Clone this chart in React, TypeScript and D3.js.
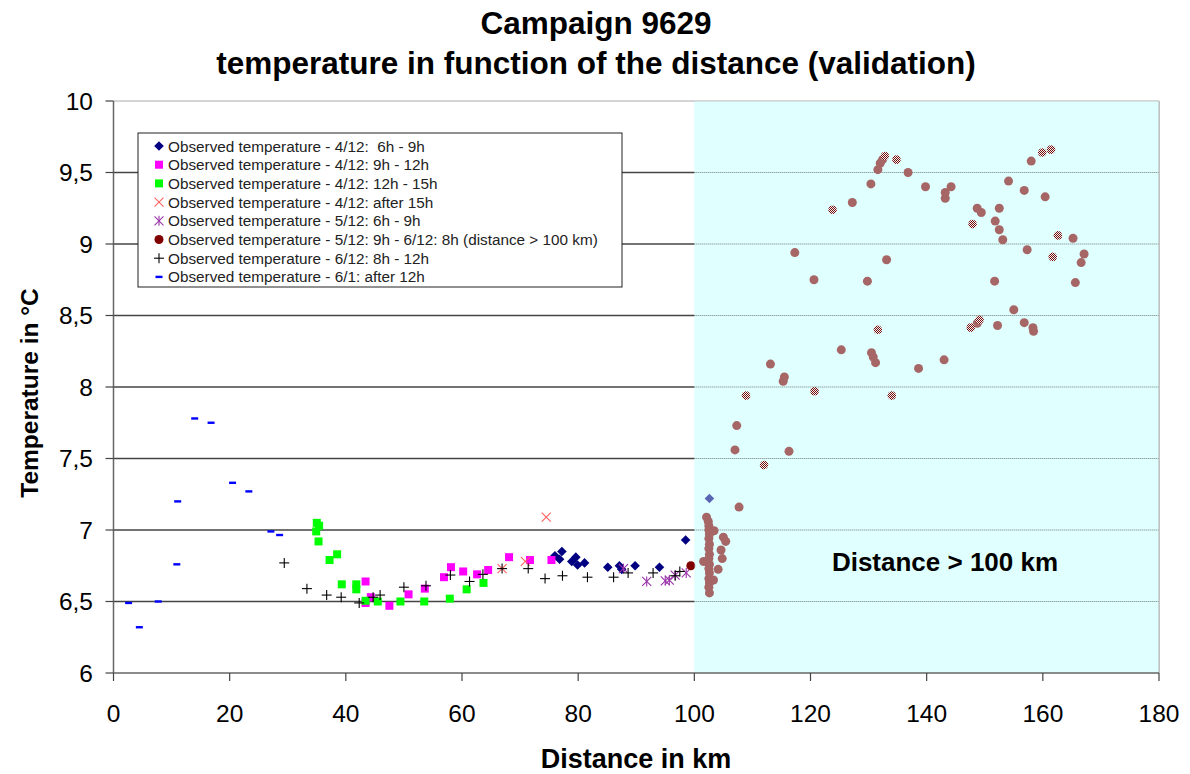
import React from 'react';
import * as d3 from 'd3';

type P = [number, number];

const xTicks = [0, 20, 40, 60, 80, 100, 120, 140, 160, 180];
const yTicks = [6, 6.5, 7, 7.5, 8, 8.5, 9, 9.5, 10];
const yTickLabels = ['6', '6,5', '7', '7,5', '8', '8,5', '9', '9,5', '10'];

const obs412_6_9: P[] = [[77.2,6.85],[76.0,6.82],[76.8,6.795],[79.6,6.81],[78.9,6.78],[79.9,6.755],[81.1,6.77],[85.1,6.74],[87.1,6.75],[87.5,6.725],[89.8,6.75],[94.0,6.74],[98.5,6.93],[102.6,7.22]];
const obs412_9_12: P[] = [[43.4,6.64],[44.3,6.53],[43.4,6.49],[47.5,6.47],[50.8,6.55],[53.6,6.59],[56.9,6.67],[58.1,6.74],[60.2,6.71],[62.6,6.69],[64.5,6.72],[68.1,6.81],[71.7,6.79],[75.4,6.79]];
const obs412_12_15: P[] = [[35.0,7.05],[35.4,7.03],[34.9,6.99],[35.3,6.92],[38.5,6.83],[37.2,6.79],[39.3,6.62],[41.8,6.62],[41.8,6.585],[43.4,6.505],[45.5,6.5],[49.4,6.5],[53.5,6.5],[57.9,6.52],[60.8,6.585],[63.7,6.63]];
const obs412_after15: P[] = [[74.5,7.09],[70.9,6.78],[66.9,6.73]];
const obs512_6_9: P[] = [[87.8,6.73],[91.8,6.64],[95.0,6.645],[95.7,6.65],[96.7,6.685],[98.6,6.7]];
const obs512_far: P[] = [[99.4,6.75],
  [102.1,7.09],[102.4,7.06],[102.5,7.03],[102.5,7.0],[102.6,6.97],[102.5,6.94],[102.6,6.9],[102.5,6.87],[102.6,6.83],[102.5,6.8],[102.6,6.76],[102.5,6.73],[102.6,6.7],[102.5,6.66],[102.6,6.63],[102.5,6.6],[102.6,6.56],
  [101.6,6.78],[103.4,6.995],[105.0,6.95],[105.4,6.92],[104.6,6.86],[104.8,6.8],[104.1,6.725],[103.3,6.65],[107.7,7.16],[107.0,7.56],[107.3,7.73],[116.3,7.55],[113.1,8.16],[115.5,8.07],[115.3,8.04],
  [132.4,9.59],[132.0,9.565],[131.6,9.52],[136.8,9.5],[139.8,9.4],[130.4,9.42],[127.2,9.29],[117.3,8.94],[120.6,8.75],[133.1,8.89],[129.8,8.74],[125.3,8.26],[130.5,8.24],[130.8,8.21],[131.2,8.17],[138.6,8.13],
  [158.0,9.58],[144.2,9.4],[143.2,9.36],[143.2,9.32],[154.1,9.44],[156.8,9.375],[160.4,9.33],[148.7,9.25],[149.4,9.22],[152.5,9.25],[151.8,9.16],[152.5,9.1],[153.1,9.03],[165.2,9.04],[157.3,8.96],[167.1,8.93],[166.6,8.87],[151.7,8.74],[165.6,8.73],[155.0,8.54],[148.7,8.445],[152.2,8.43],[156.8,8.45],[158.3,8.415],[158.4,8.39],[143.0,8.19]];
const obs512_farFront: P[] = [[112.0,7.455],[108.9,7.94],[120.7,7.97],[132.8,9.615],[134.8,9.59],[123.8,9.24],[131.6,8.4],[161.4,9.66],[159.9,9.64],[147.9,9.14],[162.6,9.06],[161.7,8.91],[149.1,8.47],[147.6,8.415],[134.0,7.94]];
const obs612_8_12: P[] = [[29.4,6.77],[33.3,6.59],[36.7,6.545],[39.2,6.53],[42.3,6.49],[44.7,6.53],[45.9,6.545],[50.0,6.6],[53.8,6.61],[58.0,6.685],[61.3,6.64],[63.6,6.69],[66.9,6.73],[71.4,6.73],[74.3,6.66],[77.3,6.68],[81.6,6.67],[86.1,6.67],[88.6,6.7],[92.9,6.7],[96.7,6.68],[97.5,6.71]];
const obs61_after12: P[] = [[13.98,7.78],[16.8,7.75],[20.5,7.33],[23.3,7.27],[11.05,7.2],[27.1,6.99],[28.6,6.965],[10.9,6.76],[2.6,6.49],[7.7,6.5],[4.45,6.32]];

const legendLabels = [
  'Observed temperature - 4/12:  6h - 9h',
  'Observed temperature - 4/12: 9h - 12h',
  'Observed temperature - 4/12: 12h - 15h',
  'Observed temperature - 4/12: after 15h',
  'Observed temperature - 5/12: 6h - 9h',
  'Observed temperature - 5/12: 9h - 6/12: 8h (distance > 100 km)',
  'Observed temperature - 6/12: 8h - 12h',
  'Observed temperature - 6/1: after 12h',
];
const legendOrder = ['diamond', 'squareM', 'squareG', 'x', 'asterisk', 'circle', 'plus', 'dash'];

const FONT = "Arial, 'Liberation Sans', sans-serif";

function Marker({ kind, cx, cy }: { kind: string; cx: number; cy: number }) {
  switch (kind) {
    case 'diamond':
      return <path d={`M${cx},${cy - 4.8}L${cx + 4.8},${cy}L${cx},${cy + 4.8}L${cx - 4.8},${cy}Z`} fill="#000080" />;
    case 'squareM':
      return <rect x={cx - 4} y={cy - 4} width={8} height={8} fill="#ff00ff" />;
    case 'squareG':
      return <rect x={cx - 4} y={cy - 4} width={8} height={8} fill="#00ff00" />;
    case 'x':
      return <g stroke="#ff6060" strokeWidth={1.1}><line x1={cx - 4.5} y1={cy - 4.5} x2={cx + 4.5} y2={cy + 4.5} /><line x1={cx - 4.5} y1={cy + 4.5} x2={cx + 4.5} y2={cy - 4.5} /></g>;
    case 'asterisk':
      return <g stroke="#9933aa" strokeWidth={1.1}><line x1={cx - 4.5} y1={cy - 4.5} x2={cx + 4.5} y2={cy + 4.5} /><line x1={cx - 4.5} y1={cy + 4.5} x2={cx + 4.5} y2={cy - 4.5} /><line x1={cx} y1={cy - 5} x2={cx} y2={cy + 5} /></g>;
    case 'circle':
      return <circle cx={cx} cy={cy} r={4.5} fill="#800000" />;
    case 'circleFront':
      return <circle cx={cx} cy={cy} r={4.3} fill="url(#checker)" />;
    case 'plus':
      return <g stroke="#000" strokeWidth={1.1}><line x1={cx - 5} y1={cy} x2={cx + 5} y2={cy} /><line x1={cx} y1={cy - 5} x2={cx} y2={cy + 5} /></g>;
    case 'dash':
      return <rect x={cx - 3.5} y={cy - 1.2} width={7} height={2.4} fill="#0000ff" />;
    default:
      return null;
  }
}

export default function App() {
  const x = d3.scaleLinear().domain([0, 180]).range([113.5, 1159]);
  const y = d3.scaleLinear().domain([6, 10]).range([673, 101]);
  const x0 = x(0), x100 = x(100), x180 = x(180);

  const series: { kind: string; data: P[] }[] = [
    { kind: 'diamond', data: obs412_6_9 },
    { kind: 'squareM', data: obs412_9_12 },
    { kind: 'squareG', data: obs412_12_15 },
    { kind: 'x', data: obs412_after15 },
    { kind: 'asterisk', data: obs512_6_9 },
    { kind: 'circle', data: obs512_far },
    { kind: 'plus', data: obs612_8_12 },
    { kind: 'dash', data: obs61_after12 },
  ];

  const legX = 138, legY = 133, legW = 484, legH = 154;

  return (
    <svg width={1190} height={774} style={{ position: 'absolute', left: 0, top: 0, background: '#fff' }} fontFamily={FONT}>
      <defs>
        <pattern id="checker" width={2} height={2} patternUnits="userSpaceOnUse">
          <rect width={2} height={2} fill="#e8ffff" />
          <rect width={1} height={1} fill="#800000" />
          <rect x={1} y={1} width={1} height={1} fill="#800000" />
        </pattern>
      </defs>
      <rect width={1190} height={774} fill="#fff" />
      <rect x={x100} y={y(10)} width={x180 - x100} height={y(6) - y(10)} fill="#e0ffff" />
      {yTicks.filter(t => t > 6 && t < 10).map(t => (
        <g key={t}>
          <line x1={x0} x2={x100} y1={y(t)} y2={y(t)} stroke="#444" strokeWidth={1.4} />
          <line x1={x100} x2={x180} y1={y(t)} y2={y(t)} stroke="#222" strokeWidth={1} strokeDasharray="1,1" />
        </g>
      ))}
      <line x1={x0} x2={x180} y1={y(10)} y2={y(10)} stroke="#aaa" strokeWidth={1} />
      <line x1={x180} x2={x180} y1={y(10)} y2={y(6)} stroke="#999" strokeWidth={1.2} />
      {series.map(s => (
        <g key={s.kind}>
          {s.data.map((d, i) => <Marker key={i} kind={s.kind} cx={x(d[0])} cy={y(d[1])} />)}
        </g>
      ))}
      <rect x={x100} y={y(10)} width={x180 - x100} height={y(6) - y(10)} fill="#e0ffff" opacity={0.4} />
      {obs512_farFront.map((d, i) => <Marker key={i} kind="circleFront" cx={x(d[0])} cy={y(d[1])} />)}
      <text x={945} y={571} textAnchor="middle" fontSize={26} fontWeight="bold" fill="#000">Distance &gt; 100 km</text>
      <line x1={x0} x2={x0} y1={y(10)} y2={y(6)} stroke="#666" strokeWidth={1.5} />
      <line x1={x0} x2={x180} y1={y(6)} y2={y(6)} stroke="#666" strokeWidth={1.5} />
      {yTicks.map((t, i) => (
        <g key={t}>
          <line x1={x0 - 8} x2={x0} y1={y(t)} y2={y(t)} stroke="#444" strokeWidth={1.2} />
          <text x={93} y={y(t)} dy="0.36em" textAnchor="end" fontSize={24.5} fill="#000">{yTickLabels[i]}</text>
        </g>
      ))}
      {xTicks.map(t => (
        <g key={t}>
          <line x1={x(t)} x2={x(t)} y1={y(6)} y2={y(6) + 8} stroke="#444" strokeWidth={1.2} />
          <text x={x(t)} y={722} textAnchor="middle" fontSize={24.5} fill="#000">{t}</text>
        </g>
      ))}
      <text x={596} y={34} textAnchor="middle" fontSize={31.5} fontWeight="bold">Campaign 9629</text>
      <text x={596} y={74} textAnchor="middle" fontSize={31.5} fontWeight="bold">temperature in function of the distance (validation)</text>
      <text transform={`translate(38,393) rotate(-90)`} textAnchor="middle" fontSize={24.5} fontWeight="bold">Temperature in °C</text>
      <text x={636} y={768} textAnchor="middle" fontSize={27} fontWeight="bold">Distance in km</text>
      <rect x={legX} y={legY} width={legW} height={legH} fill="#fff" stroke="#222" strokeWidth={1} />
      {legendLabels.map((lab, i) => {
        const cy = legY + 13 + i * 18.7;
        return (
          <g key={i}>
            <Marker kind={legendOrder[i]} cx={159} cy={cy} />
            <text x={168} y={cy} dy="0.36em" fontSize={15.3} fill="#222" style={{ whiteSpace: 'pre' }}>{lab}</text>
          </g>
        );
      })}
    </svg>
  );
}
